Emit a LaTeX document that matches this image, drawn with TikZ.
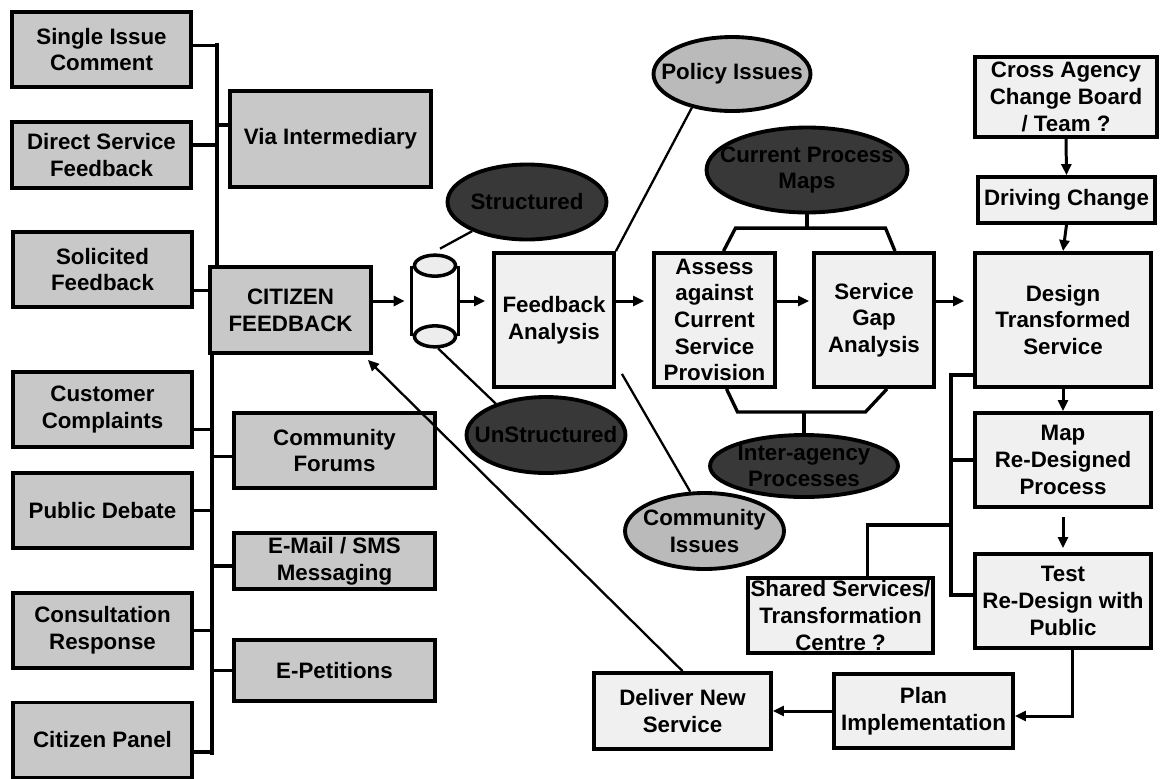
\documentclass[tikz,border=0pt]{standalone}
\usepackage{fontspec}
\setmainfont{Liberation Sans}
\usepackage{tikz}
\usetikzlibrary{calc}
\usetikzlibrary{shapes}
\usetikzlibrary{shapes.geometric}
\usetikzlibrary{arrows.meta}

\definecolor{srcgrey}{RGB}{200,200,200}
\definecolor{flowgrey}{RGB}{239,240,239}
\definecolor{darkoval}{RGB}{56,56,56}
\definecolor{lightoval}{RGB}{186,186,186}
\definecolor{drumend}{RGB}{236,237,236}

\begin{document}
\begin{tikzpicture}[x=0.02cm, y=-0.02cm,
    every node/.style={font=\bfseries\fontsize{12.7}{15.2}\selectfont, align=center, inner sep=0pt},
    box/.style={draw, line width=2.2pt, fill=srcgrey},
    src/.style={box, minimum width=3.58cm, minimum height=1.5cm},
    chan/.style={box, minimum width=4.02cm},
    flow/.style={draw, line width=2.2pt, fill=flowgrey},
    oval/.style={ellipse, draw, line width=2.2pt, fill=darkoval, inner xsep=-0.5cm, inner ysep=-0.1cm},
    issue/.style={oval, fill=lightoval},
    bus/.style={line width=1.9pt},
    link/.style={line width=1.3pt},
    drum/.style={line width=2pt},
    arr/.style={line width=1.7pt, -{Triangle[length=0.22cm, width=0.2cm]}}]
    \useasboundingbox (0,0) rectangle (1163,778);

    % feedback sources
    \node[src] (single) at (101.5,49.5) {Single Issue\\Comment};
    \node[src, minimum height=1.32cm] (direct) at (101.5,155) {Direct Service\\Feedback};
    \node[src] (solicited) at (102.5,269.5) {Solicited\\Feedback};
    \node[src] (complaints) at (102.5,409.5) {Customer\\Complaints};
    \node[src] (debate) at (102.5,510.5) {Public Debate};
    \node[src] (consult) at (102.5,630.5) {Consultation\\Response};
    \node[src] (panel) at (102.5,740) {Citizen Panel};

    \node[chan, minimum height=1.92cm] (via) at (330.5,139) {Via Intermediary};
    \node[chan, minimum height=1.5cm] (forums) at (334.5,450.5) {Community\\Forums};
    \node[chan, minimum height=1.12cm] (email) at (334.5,561) {E-Mail / SMS\\Messaging};
    \node[chan, minimum height=1.22cm] (petitions) at (334.5,670.5) {E-Petitions};

    \node[box, minimum width=3.22cm, minimum height=1.72cm] (citizen) at (290.5,310) {CITIZEN\\FEEDBACK};

    % the bus feeding CITIZEN FEEDBACK
    \coordinate (bustop) at (217,43);
    \coordinate (busbot) at (212,755);
    \draw[bus] (bustop) -- (bustop |- citizen.north);
    \draw[bus] (busbot |- citizen.south) -- (busbot);
    \draw[bus] ($(single.east)+(0,-4)$) coordinate (s) -- (s -| bustop);
    \draw[bus] ($(direct.east)+(0,-10)$) coordinate (s) -- (s -| bustop);
    \draw[bus] ($(via.west)+(0,-14)$) coordinate (s) -- (s -| bustop);
    \draw[bus] ($(solicited.east)+(0,21)$) coordinate (s) -- (s -| citizen.west);
    \draw[bus] ($(complaints.east)+(0,20)$) coordinate (s) -- (s -| busbot);
    \draw[bus] (debate.east) -- (debate.east -| busbot);
    \draw[bus] (consult.east) -- (consult.east -| busbot);
    \draw[bus] ($(panel.east)+(0,12)$) coordinate (s) -- (s -| busbot);
    \draw[bus] ($(forums.west)+(0,6)$) coordinate (s) -- (s -| busbot);
    \draw[bus] ($(email.west)+(0,5)$) coordinate (s) -- (s -| busbot);
    \draw[bus] (petitions.west) -- (petitions.west -| busbot);

    % data store
    \node[minimum width=0.92cm, minimum height=1.4cm] (cyl) at (435,301) {};
    \fill[white] (cyl.north west) rectangle (cyl.south east);
    \draw[drum] (cyl.north west) -- (cyl.south west) (cyl.north east) -- (cyl.south east);
    \draw[drum, fill=drumend] (cyl.north) ellipse [x radius=0.41cm, y radius=0.21cm];
    \draw[drum, fill=drumend] (cyl.south) ellipse [x radius=0.41cm, y radius=0.21cm];

    \node[oval, minimum width=3.18cm, minimum height=1.5cm] (structured) at (527,202) {Structured};
    \node[oval, minimum width=3.18cm, minimum height=1.52cm] (unstructured) at (546,435) {UnStructured};
    \node[issue, minimum width=3.14cm, minimum height=1.48cm] (policy) at (732,74) {Policy Issues};
    \node[issue, minimum width=3.18cm, minimum height=1.52cm] (community) at (704.5,531) {Community\\Issues};
    \node[oval, minimum width=4.02cm, minimum height=1.7cm] (maps) at (807,170) {Current Process\\Maps};
    \node[oval, minimum width=3.76cm, minimum height=1.24cm] (interagency) at (804,466) {Inter-agency\\Processes};

    % analysis and redesign
    \node[flow, minimum width=2.4cm, minimum height=2.68cm] (fa) at (554,320) {Feedback\\Analysis};
    \node[flow, minimum width=2.42cm, minimum height=2.68cm] (assess) at (714.5,320) {Assess\\against\\Current\\Service\\Provision};
    \node[flow, minimum width=2.4cm, minimum height=2.68cm] (gap) at (874,320) {Service\\Gap\\Analysis};
    \node[flow, minimum width=3.52cm, minimum height=2.68cm] (design) at (1063,320) {Design\\Transformed\\Service};
    \node[flow, minimum width=3.54cm, minimum height=0.92cm] (driving) at (1066.5,200) {Driving Change};
    \node[flow, minimum width=3.64cm, minimum height=1.6cm] (cross) at (1066,97) {Cross Agency\\Change Board\\/ Team ?};
    \node[flow, minimum width=3.52cm, minimum height=1.88cm] (map) at (1063,460) {Map\\Re-Designed\\Process};
    \node[flow, minimum width=3.52cm, minimum height=1.88cm] (test) at (1063,601) {Test\\Re-Design with\\Public};
    \node[flow, minimum width=3.7cm, minimum height=1.5cm] (shared) at (840.5,615.5) {Shared Services/\\Transformation\\Centre ?};
    \node[flow, minimum width=3.58cm, minimum height=1.48cm] (plan) at (923.5,711) {Plan\\Implementation};
    \node[flow, minimum width=3.54cm, minimum height=1.52cm] (deliver) at (682.5,711) {Deliver New\\Service};

    % main flow
    \draw[arr, shorten >=0.14cm] (citizen.east |- cyl) -- (cyl.west);
    \draw[arr, shorten >=0.14cm] (cyl.east) -- (fa.west |- cyl);
    \draw[arr, shorten >=0.16cm] (fa.east |- cyl) -- (assess.west |- cyl);
    \draw[arr, shorten >=0.06cm] (assess.east |- cyl) -- (gap.west |- cyl);
    \draw[arr, shorten >=0.18cm] (gap.east |- cyl) -- (design.west |- cyl);

    \draw[link] ($(cyl.north)+(5,-17)$) -- (structured.208);
    \draw[link] ($(cyl.south)+(3,12)$) -- (unstructured.148);
    \draw[link] (fa.north east) -- (policy.220);
    \draw[link] ($(fa.south east)+(6,-15)$) -- (community.110);

    % brackets round the two assessment boxes
    \draw[bus] ($(assess.north)+(9,0)$) -- ++(12,-23) coordinate (brtop) -- ++(150,0) -- ($(gap.north)+(21,0)$);
    \draw[bus] (maps.south) -- (maps.south |- brtop);
    \draw[bus] ($(assess.south)+(12,0)$) -- ++(11,23) coordinate (brbot) -- ++(128,0) -- ($(gap.south)+(13,0)$);
    \draw[bus] (interagency.north) -- (interagency.north |- brbot);

    \draw[arr] (cross.south) -- (driving.north);
    \draw[arr] (driving.south) -- (design.north);
    \draw[arr] (design.south) -- (map.north);
    \draw[arr, shorten <=0.16cm, shorten >=0.08cm] (map.south) -- (test.north);
    \draw[arr] ($(test.south)+(9,0)$) |- ($(plan.east)+(0,5)$);
    \draw[arr] (plan.west) -- (deliver.east);

    \draw[bus] ($(design.west)+(0,55)$) -- ++(-22,0) coordinate (rbus) |- ($(test.west)+(0,-6)$);
    \draw[bus] (map.west) -- (map.west -| rbus);
    \draw[bus] ($(rbus)+(0,150)$) -| ($(shared.north)+(27,0)$);

    % back to the citizen
    \draw[link, -{Triangle[length=0.22cm, width=0.2cm]}] (deliver.north) -- ($(citizen.south east)+(-5,5)$);
\end{tikzpicture}
\end{document}
